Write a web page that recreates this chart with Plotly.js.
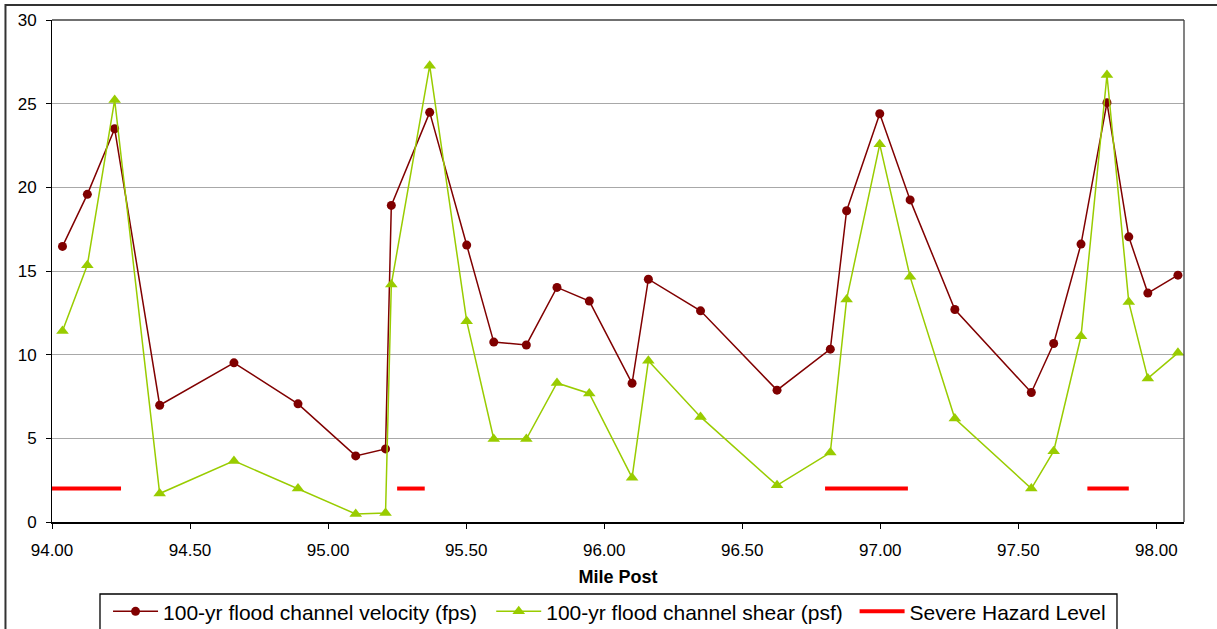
<!DOCTYPE html>
<html>
<head>
<meta charset="utf-8">
<script src="https://cdn.plot.ly/plotly-3.0.1.min.js"></script>
<style>
  html, body { margin: 0; padding: 0; background: #ffffff; }
  #chart { width: 1217px; height: 629px; }
</style>
</head>
<body>
<div id="chart"></div>
<script>
// Mile post locations of the cross sections
const milePost = [
  94.038, 94.128, 94.227, 94.390, 94.659, 94.891, 95.100, 95.208, 95.229, 95.368,
  95.502, 95.600, 95.718, 95.829, 95.946, 96.101, 96.160, 96.349, 96.626, 96.819,
  96.878, 96.998, 97.108, 97.270, 97.547, 97.628, 97.727, 97.821, 97.900, 97.969,
  98.078
];

// 100-yr flood channel velocity (fps)
const velocity = [
  16.47, 19.58, 23.50, 6.98, 9.51, 7.06, 3.95, 4.37, 18.92, 24.48,
  16.55, 10.75, 10.58, 14.02, 13.20, 8.29, 14.51, 12.62, 7.88, 10.33,
  18.60, 24.40, 19.25, 12.70, 7.74, 10.67, 16.61, 25.06, 17.04, 13.68,
  14.75
];

// 100-yr flood channel shear (psf)
const shear = [
  11.42, 15.35, 25.22, 1.70, 3.65, 2.00, 0.48, 0.54, 14.20, 27.27,
  12.00, 4.96, 4.96, 8.31, 7.68, 2.65, 9.63, 6.28, 2.19, 4.15,
  13.30, 22.57, 14.65, 6.18, 2.00, 4.23, 11.10, 26.71, 13.14, 8.58,
  10.11
];

// Reaches flagged at the severe hazard level (null breaks the line between reaches)
const hazardMile = [94.00, 94.25, null, 95.25, 95.35, null, 96.80, 97.10, null, 97.75, 97.90];
const hazardLevel = [2, 2, null, 2, 2, null, 2, 2, null, 2, 2];

const xTicks = [94.0, 94.5, 95.0, 95.5, 96.0, 96.5, 97.0, 97.5, 98.0];
const yTicks = [0, 5, 10, 15, 20, 25, 30];

const FONT = 'Liberation Sans, Arial, Helvetica, sans-serif';

const traces = [
  {
    x: milePost, y: velocity, type: 'scatter', mode: 'lines+markers',
    name: '100-yr flood channel velocity (fps)',
    line: { color: '#800000', width: 1.5 },
    marker: { symbol: 'circle', size: 9, color: '#800000' },
    legend: 'legend', cliponaxis: false
  },
  {
    x: milePost, y: shear, type: 'scatter', mode: 'lines+markers',
    name: '100-yr flood channel shear (psf)',
    line: { color: '#99CC00', width: 1.5 },
    marker: { symbol: 'triangle-up', size: 11, color: '#99CC00' },
    legend: 'legend2', cliponaxis: false
  },
  {
    x: hazardMile, y: hazardLevel, type: 'scatter', mode: 'lines',
    name: 'Severe Hazard Level',
    line: { color: '#FF0000', width: 4 },
    connectgaps: false,
    legend: 'legend3', cliponaxis: false
  }
];

const legendCommon = {
  orientation: 'h', xref: 'paper', yref: 'paper',
  y: -0.1787, yanchor: 'middle', xanchor: 'left',
  bgcolor: 'rgba(0,0,0,0)', borderwidth: 0,
  itemwidth: 45,
  font: { family: FONT, size: 21, color: '#000000' }
};

const layout = {
  width: 1217, height: 629,
  margin: { l: 52, r: 33, t: 20, b: 107, pad: 0, autoexpand: false },
  paper_bgcolor: '#ffffff', plot_bgcolor: '#ffffff',
  font: { family: FONT, color: '#000000' },
  showlegend: true,
  legend:  Object.assign({}, legendCommon, { x: 0.0495 }),
  legend2: Object.assign({}, legendCommon, { x: 0.388 }),
  legend3: Object.assign({}, legendCommon, { x: 0.709 }),
  xaxis: {
    range: [94, 98.1],
    tickvals: xTicks, tickformat: '.2f',
    ticks: 'outside', ticklen: 5, tickwidth: 1, tickcolor: '#000000',
    ticklabelstandoff: 7,
    showline: true, linecolor: '#000000', linewidth: 2,
    showgrid: false, zeroline: false,
    tickfont: { family: FONT, size: 17, color: '#000000' },
    title: { text: 'Mile Post', font: { family: FONT, size: 18, weight: 'bold', color: '#000000' }, standoff: 11 }
  },
  yaxis: {
    range: [0, 30],
    tickvals: yTicks,
    ticks: 'outside', ticklen: 5, tickwidth: 1, tickcolor: '#000000',
    ticklabelstandoff: 6,
    showline: true, linecolor: '#000000', linewidth: 1,
    showgrid: true, gridcolor: '#a8a8a8', gridwidth: 1,
    zeroline: false,
    tickfont: { family: FONT, size: 17, color: '#000000' }
  },
  shapes: [
    // plot area frame (top and right edges)
    { type: 'line', xref: 'paper', yref: 'paper', x0: 0, x1: 1, y0: 1, y1: 1,
      line: { color: '#404040', width: 1.3 }, layer: 'above' },
    { type: 'line', xref: 'paper', yref: 'paper', x0: 1, x1: 1, y0: 0, y1: 1,
      line: { color: '#404040', width: 1.3 }, layer: 'above' },
    // chart area border
    { type: 'rect', xref: 'paper', yref: 'paper', x0: -0.0411, x1: 1.2, y0: -0.4, y1: 1.0299,
      line: { color: '#333333', width: 2 }, fillcolor: 'rgba(0,0,0,0)', layer: 'below' },
    // legend frame
    { type: 'rect', xref: 'paper', yref: 'paper', x0: 0.0424, x1: 0.9408, y0: -0.4, y1: -0.1434,
      line: { color: '#000000', width: 1.3 }, fillcolor: 'rgba(0,0,0,0)', layer: 'below' }
  ]
};

Plotly.newPlot('chart', traces, layout, { staticPlot: true, displayModeBar: false });
</script>
</body>
</html>
